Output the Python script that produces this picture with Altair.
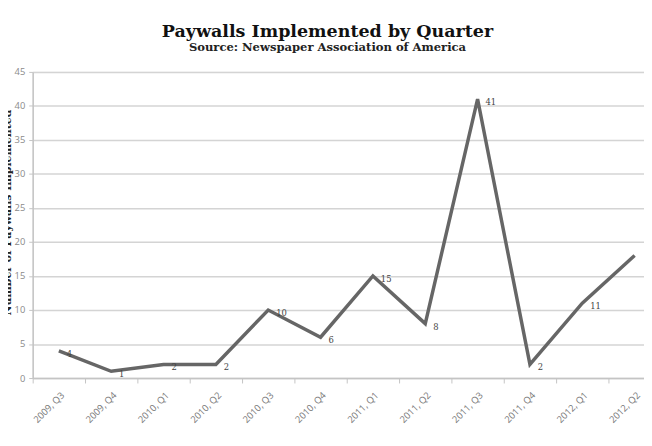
import altair as alt
import pandas as pd

quarters = ["2009, Q3", "2009, Q4", "2010, Q1", "2010, Q2", "2010, Q3", "2010, Q4",
            "2011, Q1", "2011, Q2", "2011, Q3", "2011, Q4", "2012, Q1", "2012, Q2"]
paywalls = [4, 1, 2, 2, 10, 6, 15, 8, 41, 2, 11, 18]
point_labels = ["4", "1", "2", "2", "10", "6", "15", "8", "41", "2", "11", ""]
y_ticks = [0, 5, 10, 15, 20, 25, 30, 35, 40, 45]

df = pd.DataFrame({"quarter": quarters, "paywalls": paywalls, "label": point_labels})

x_enc = alt.X(
    "quarter:N", sort=quarters,
    scale=alt.Scale(range=[0, 636], paddingInner=0, paddingOuter=0),
    axis=alt.Axis(title=None, labelAngle=-45, tickBand="extent", grid=False,
                  domainColor="#c4c4c4", domainWidth=1.5, tickColor="#c4c4c4",
                  tickSize=5, labelColor="#777777", labelFont="Open Sans",
                  labelFontSize=9.5, labelPadding=7, labelOverlap=False),
)
y_enc = alt.Y(
    "paywalls:Q",
    scale=alt.Scale(domain=[0, 45], nice=False),
    axis=alt.Axis(values=y_ticks, tickCount=10, labelOverlap=False,
                  title="Number of Paywalls Implemented",
                  titleFont="DejaVu Serif", titleFontSize=11, titleFontWeight="bold",
                  titleColor="#222222", titleX=-22, titleY=142,
                  titleBaseline="alphabetic", titleAngle=270,
                  gridColor="#d4d4d4", gridWidth=1.5,
                  domainColor="#c4c4c4", domainWidth=1.5, tickColor="#c4c4c4",
                  tickSize=4, labelColor="#8a8a8a", labelFont="Open Sans",
                  labelFontSize=9.5, labelPadding=4),
)

line = alt.Chart(df).mark_line(color="#666666", strokeWidth=3.5, strokeJoin="miter").encode(
    x=x_enc, y=y_enc
)
labels = alt.Chart(df).mark_text(
    align="left", baseline="middle", dx=8, dy=3, fontSize=8.5,
    font="DejaVu Serif", color="#444444"
).encode(x=x_enc, y=y_enc, text="label:N")

chart = alt.layer(line, labels).properties(
    width=619, height=310,
    autosize=alt.AutoSizeParams(type="none"),
    padding={"left": 25, "top": 62, "right": 0, "bottom": 58},
    title=alt.TitleParams(
        text="Paywalls Implemented by Quarter",
        subtitle="Source: Newspaper Association of America",
        anchor="middle", font="DejaVu Serif", fontSize=17.7, fontWeight="bold",
        color="#111111", subtitleFont="DejaVu Serif", subtitleFontSize=11.7,
        subtitleFontWeight="bold", subtitleColor="#222222", subtitlePadding=2,
        dx=-11, offset=13,
    ),
).configure_view(strokeWidth=0).configure(background="white")

chart.save("out.html", embed_options={"renderer": "svg", "actions": False})
